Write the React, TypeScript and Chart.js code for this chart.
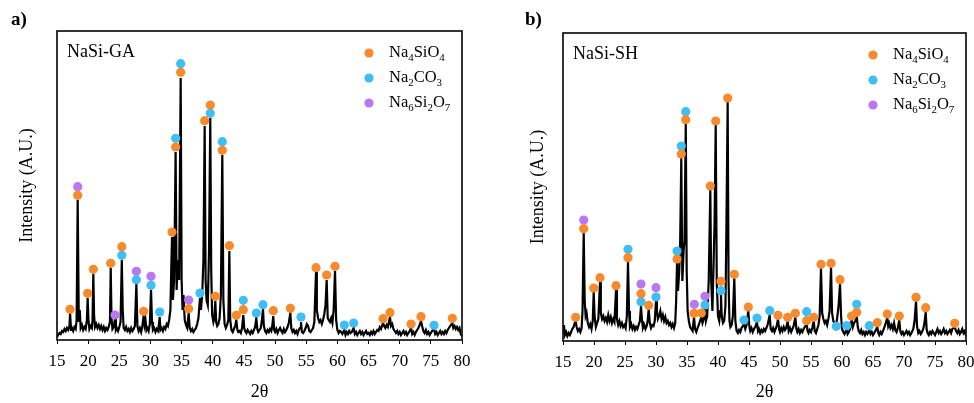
import React, { useEffect, useRef } from "react";
import { Chart, registerables } from "chart.js";

Chart.register(...registerables);

const SERIF = '"Liberation Serif", "Times New Roman", serif';

type Pt = [number, number];

// 2θ axis
const thetaMin = 15;
const thetaMax = 80;
const thetaStep = 5;

// ---------- Pattern a) NaSi-GA : [2θ, intensity (A.U.)] ----------
const gaPattern: Pt[] = [
  [15.0, 3], [15.2, 5], [15.4, 7], [15.6, 6], [15.8, 9], [16.0, 8], [16.2, 11], [16.4, 9], [16.6, 12], [16.8, 10],
  [17.0, 14], [17.1, 27], [17.25, 10], [17.4, 12], [17.6, 9], [17.8, 13], [18.0, 11], [18.15, 20], [18.32, 140], [18.5, 18],
  [18.65, 30], [18.8, 12], [19.0, 15], [19.2, 10], [19.4, 13], [19.6, 11], [19.8, 20], [19.92, 42], [20.05, 20], [20.2, 11],
  [20.4, 14], [20.6, 12], [20.7, 20], [20.83, 66], [20.95, 25], [21.1, 13], [21.3, 16], [21.5, 12], [21.7, 15], [21.9, 11],
  [22.1, 14], [22.3, 10], [22.5, 13], [22.7, 9], [22.9, 12], [23.1, 10], [23.3, 13], [23.5, 18], [23.62, 72], [23.75, 22],
  [23.9, 11], [24.1, 13], [24.31, 21], [24.45, 10], [24.6, 12], [24.8, 9], [25.0, 13], [25.2, 18], [25.4, 80], [25.55, 30],
  [25.7, 12], [25.9, 10], [26.1, 13], [26.3, 9], [26.5, 11], [26.7, 8], [26.9, 12], [27.1, 9], [27.3, 11], [27.5, 14],
  [27.74, 56], [27.9, 14], [28.1, 9], [28.3, 12], [28.5, 8], [28.7, 14], [28.9, 24], [29.05, 15], [29.2, 20], [29.35, 10],
  [29.5, 12], [29.7, 9], [29.9, 16], [30.09, 50], [30.25, 18], [30.4, 10], [30.6, 12], [30.8, 8], [31.0, 11], [31.2, 9],
  [31.35, 15], [31.48, 23], [31.6, 10], [31.8, 12], [32.0, 9], [32.2, 13], [32.4, 11], [32.6, 16], [32.8, 14], [33.0, 20],
  [33.2, 30], [33.35, 75], [33.46, 103], [33.6, 40], [33.8, 60], [34.04, 188], [34.2, 50], [34.4, 80], [34.6, 60], [34.85, 262],
  [35.0, 60], [35.15, 30], [35.3, 45], [35.5, 20], [35.7, 15], [35.9, 12], [36.13, 27], [36.3, 12], [36.5, 9], [36.7, 11],
  [36.9, 8], [37.1, 10], [37.3, 12], [37.5, 16], [37.7, 22], [37.95, 42], [38.1, 30], [38.3, 45], [38.5, 80], [38.7, 214],
  [38.85, 60], [39.0, 40], [39.2, 35], [39.4, 90], [39.6, 222], [39.75, 70], [39.9, 25], [40.1, 18], [40.25, 22], [40.41, 39],
  [40.55, 18], [40.7, 14], [40.9, 16], [41.1, 22], [41.3, 45], [41.53, 185], [41.7, 40], [41.9, 16], [42.1, 12], [42.3, 15],
  [42.5, 20], [42.66, 89], [42.8, 20], [43.0, 10], [43.2, 8], [43.4, 11], [43.6, 14], [43.78, 20], [43.95, 10], [44.1, 8],
  [44.3, 9], [44.5, 7], [44.7, 12], [44.9, 25], [45.05, 12], [45.2, 9], [45.4, 7], [45.6, 10], [45.8, 8], [46.0, 6],
  [46.2, 9], [46.4, 7], [46.6, 10], [46.8, 13], [46.99, 22], [47.15, 11], [47.3, 8], [47.5, 10], [47.7, 12], [47.85, 18],
  [48.06, 31], [48.2, 14], [48.4, 9], [48.6, 7], [48.8, 10], [49.0, 8], [49.2, 11], [49.4, 9], [49.55, 14], [49.71, 24],
  [49.85, 10], [50.0, 8], [50.2, 11], [50.4, 7], [50.6, 10], [50.8, 12], [51.0, 9], [51.2, 7], [51.4, 11], [51.6, 8],
  [51.8, 10], [52.0, 13], [52.2, 17], [52.45, 27], [52.6, 12], [52.8, 8], [53.0, 10], [53.2, 7], [53.4, 9], [53.6, 6],
  [53.8, 10], [54.0, 12], [54.16, 18], [54.3, 8], [54.5, 7], [54.7, 9], [54.9, 12], [55.1, 16], [55.3, 14], [55.5, 9],
  [55.7, 8], [55.9, 10], [56.1, 12], [56.3, 18], [56.57, 68], [56.7, 30], [56.9, 22], [57.1, 18], [57.3, 20], [57.5, 16],
  [57.7, 20], [57.9, 26], [58.1, 35], [58.28, 60], [58.45, 22], [58.6, 20], [58.8, 18], [59.0, 22], [59.2, 17], [59.4, 30],
  [59.62, 69], [59.8, 20], [60.0, 10], [60.2, 7], [60.4, 9], [60.6, 8], [60.8, 6], [61.11, 10], [61.3, 5], [61.5, 8],
  [61.7, 6], [61.9, 9], [62.1, 7], [62.3, 8], [62.61, 12], [62.8, 6], [63.0, 8], [63.2, 5], [63.4, 7], [63.6, 9],
  [63.8, 6], [64.0, 8], [64.2, 5], [64.4, 7], [64.6, 9], [64.8, 6], [65.0, 7], [65.2, 5], [65.4, 8], [65.6, 6],
  [65.8, 9], [66.0, 6], [66.2, 8], [66.4, 10], [66.6, 9], [66.8, 13], [67.0, 11], [67.32, 17], [67.5, 14], [67.7, 12],
  [67.9, 15], [68.1, 13], [68.44, 23], [68.6, 14], [68.8, 16], [69.0, 11], [69.2, 9], [69.4, 7], [69.6, 9], [69.8, 6],
  [70.0, 8], [70.2, 5], [70.4, 7], [70.6, 9], [70.8, 6], [71.0, 8], [71.2, 5], [71.4, 7], [71.6, 9], [71.82, 12],
  [72.0, 6], [72.2, 8], [72.4, 5], [72.6, 8], [72.8, 10], [73.0, 12], [73.2, 15], [73.42, 19], [73.6, 14], [73.8, 9],
  [74.0, 7], [74.2, 10], [74.4, 6], [74.6, 8], [74.8, 5], [75.0, 7], [75.2, 9], [75.51, 11], [75.7, 6], [75.9, 8],
  [76.1, 5], [76.3, 7], [76.5, 9], [76.7, 6], [76.9, 8], [77.1, 6], [77.3, 9], [77.5, 7], [77.7, 10], [77.9, 12],
  [78.1, 14], [78.45, 17], [78.6, 12], [78.8, 14], [79.0, 11], [79.2, 13], [79.4, 10], [79.6, 12], [79.8, 6], [80.0, 4],
];

// phase markers, a) : [2θ, marker level]
const gaNa4SiO4: Pt[] = [
  [17.09, 30.7], [18.32, 144.7], [19.92, 46.7], [20.83, 70.7], [23.62, 76.7], [25.4, 93.3], [28.9, 28.7],
  [33.46, 108], [34.04, 193], [34.85, 267.7], [36.13, 31.3], [38.7, 219.3], [39.6, 235], [40.41, 43.7],
  [41.53, 189.7], [42.66, 94.3], [43.78, 24.7], [44.9, 30.3], [49.71, 29.3], [52.45, 31.7], [56.57, 72.3],
  [58.28, 65], [59.62, 73.7], [67.32, 21.3], [68.44, 27.3], [71.82, 16], [73.42, 23.3], [78.45, 21.7],
];
const gaNa2CO3: Pt[] = [
  [25.4, 84.7], [27.74, 60.3], [30.09, 54.7], [31.48, 28], [34.04, 201.7], [34.85, 276.3], [37.95, 47],
  [39.6, 226.7], [41.53, 198.3], [44.9, 39.7], [46.99, 27], [48.06, 35.3], [54.16, 23], [61.11, 15],
  [62.61, 17], [75.51, 14.7],
];
const gaNa6Si2O7: Pt[] = [
  [18.32, 153.3], [24.31, 25], [27.74, 68.7], [30.09, 63.7], [36.13, 40],
];

// ---------- Pattern b) NaSi-SH ----------
const shPattern: Pt[] = [
  [15.0, 8], [15.15, 16], [15.3, 6], [15.5, 9], [15.7, 5], [15.9, 8], [16.1, 6], [16.3, 9], [16.5, 12], [16.7, 14],
  [16.9, 18], [17.04, 20], [17.2, 14], [17.4, 10], [17.6, 12], [17.8, 9], [18.0, 13], [18.15, 30], [18.34, 108], [18.5, 40],
  [18.65, 25], [18.8, 28], [19.0, 18], [19.2, 14], [19.4, 17], [19.6, 12], [19.8, 20], [19.95, 49], [20.1, 25], [20.3, 14],
  [20.5, 18], [20.7, 22], [20.97, 59], [21.1, 28], [21.3, 22], [21.5, 25], [21.7, 20], [21.9, 23], [22.1, 19], [22.3, 26],
  [22.5, 20], [22.7, 24], [22.9, 18], [23.1, 22], [23.3, 19], [23.55, 51], [23.7, 22], [23.9, 16], [24.1, 20], [24.3, 15],
  [24.5, 18], [24.7, 14], [24.9, 16], [25.1, 13], [25.3, 25], [25.48, 79], [25.65, 30], [25.8, 14], [26.0, 17], [26.2, 12],
  [26.4, 15], [26.6, 11], [26.8, 14], [27.0, 12], [27.2, 16], [27.4, 20], [27.58, 35], [27.75, 20], [27.9, 13], [28.1, 16],
  [28.3, 12], [28.5, 15], [28.65, 20], [28.82, 32], [29.0, 18], [29.2, 13], [29.4, 16], [29.6, 15], [29.8, 20], [30.0, 40],
  [30.15, 30], [30.3, 22], [30.5, 25], [30.7, 30], [30.9, 22], [31.1, 26], [31.3, 20], [31.5, 24], [31.7, 18], [31.9, 20],
  [32.1, 16], [32.3, 18], [32.5, 14], [32.7, 17], [32.9, 13], [33.1, 18], [33.25, 40], [33.39, 78], [33.55, 50], [33.75, 70],
  [33.9, 100], [34.08, 183], [34.25, 60], [34.45, 90], [34.6, 100], [34.8, 218], [34.95, 70], [35.1, 30], [35.3, 20], [35.5, 14],
  [35.7, 12], [35.9, 10], [36.13, 24], [36.3, 12], [36.5, 9], [36.7, 13], [36.9, 16], [37.1, 20], [37.31, 24], [37.5, 18],
  [37.7, 22], [37.9, 32], [38.05, 20], [38.25, 25], [38.5, 60], [38.76, 151], [38.9, 60], [39.1, 30], [39.3, 80], [39.45, 120],
  [39.63, 216], [39.8, 60], [40.0, 25], [40.2, 20], [40.35, 30], [40.48, 46], [40.6, 25], [40.8, 18], [41.0, 20], [41.2, 35],
  [41.35, 110], [41.56, 239], [41.7, 60], [41.85, 20], [42.0, 14], [42.2, 16], [42.4, 25], [42.63, 63], [42.8, 20], [43.0, 10],
  [43.2, 8], [43.4, 11], [43.6, 9], [43.8, 13], [44.0, 15], [44.19, 17], [44.4, 12], [44.6, 16], [44.89, 30], [45.05, 15],
  [45.2, 10], [45.4, 13], [45.6, 9], [45.8, 12], [46.0, 14], [46.29, 19], [46.45, 10], [46.6, 12], [46.8, 8], [47.0, 11],
  [47.2, 9], [47.4, 12], [47.6, 10], [47.8, 13], [48.0, 16], [48.34, 26], [48.5, 12], [48.7, 10], [48.9, 13], [49.1, 9],
  [49.3, 12], [49.5, 16], [49.68, 22], [49.85, 12], [50.0, 9], [50.2, 13], [50.4, 10], [50.6, 14], [50.8, 11], [51.0, 13],
  [51.24, 20], [51.4, 10], [51.6, 13], [51.8, 9], [52.0, 12], [52.2, 15], [52.47, 24], [52.65, 12], [52.8, 9], [53.0, 12],
  [53.2, 8], [53.4, 11], [53.6, 9], [53.8, 12], [54.0, 14], [54.3, 17], [54.45, 10], [54.6, 8], [54.8, 11], [55.0, 9],
  [55.2, 13], [55.44, 20], [55.6, 10], [55.8, 8], [56.0, 12], [56.2, 16], [56.4, 25], [56.61, 73], [56.8, 28], [57.0, 22],
  [57.2, 18], [57.4, 20], [57.6, 16], [57.8, 22], [58.0, 30], [58.23, 74], [58.4, 28], [58.6, 20], [58.8, 18], [59.0, 15],
  [59.2, 22], [59.45, 35], [59.68, 57], [59.85, 25], [60.0, 12], [60.2, 9], [60.4, 7], [60.6, 10], [60.76, 11], [60.9, 7],
  [61.1, 9], [61.3, 12], [61.56, 21], [61.75, 14], [61.95, 18], [62.15, 20], [62.37, 25], [62.55, 14], [62.7, 10], [62.9, 8],
  [63.1, 11], [63.3, 7], [63.5, 9], [63.7, 6], [63.9, 9], [64.1, 7], [64.4, 11], [64.6, 7], [64.8, 9], [65.0, 6],
  [65.2, 8], [65.45, 11], [65.69, 14], [65.85, 8], [66.0, 6], [66.2, 9], [66.4, 7], [66.6, 10], [66.8, 13], [67.0, 17],
  [67.3, 23], [67.45, 15], [67.6, 18], [67.8, 13], [68.0, 16], [68.2, 12], [68.4, 18], [68.6, 11], [68.8, 9], [69.0, 13],
  [69.24, 21], [69.4, 10], [69.6, 7], [69.8, 9], [70.0, 6], [70.2, 8], [70.4, 10], [70.6, 7], [70.8, 9], [71.0, 6],
  [71.2, 8], [71.5, 12], [71.7, 20], [71.94, 40], [72.1, 15], [72.3, 8], [72.5, 10], [72.7, 7], [72.9, 9], [73.1, 12],
  [73.3, 18], [73.5, 29], [73.65, 12], [73.8, 8], [74.0, 6], [74.2, 9], [74.4, 7], [74.6, 10], [74.8, 8], [75.0, 6],
  [75.2, 9], [75.4, 12], [75.6, 8], [75.8, 10], [76.0, 7], [76.2, 9], [76.4, 12], [76.6, 8], [76.8, 10], [77.0, 7],
  [77.2, 9], [77.4, 11], [77.6, 8], [77.8, 12], [78.0, 13], [78.18, 14], [78.4, 10], [78.6, 8], [78.8, 11], [79.0, 7],
  [79.2, 9], [79.4, 12], [79.6, 8], [79.8, 10], [80.0, 5],
];

const shNa4SiO4: Pt[] = [
  [17.04, 23.7], [18.34, 112.3], [19.95, 53], [20.97, 63.3], [23.55, 55.3], [25.48, 83.3], [27.58, 47.3],
  [28.82, 35.7], [33.39, 82], [34.08, 187], [34.8, 221.3], [36.13, 27.7], [37.31, 28], [38.76, 155],
  [39.63, 220], [40.48, 59.7], [41.56, 243], [42.63, 66.7], [44.89, 34], [49.68, 25.7], [51.24, 23.7],
  [52.47, 27.7], [54.3, 20.3], [55.44, 23.7], [56.61, 76.7], [58.23, 77.7], [59.68, 61.3], [61.56, 25],
  [62.37, 28.7], [65.69, 18.3], [67.3, 27], [69.24, 25], [71.94, 43.7], [73.5, 33.3], [78.18, 17.7],
];
const shNa2CO3: Pt[] = [
  [25.48, 91.7], [27.58, 39.3], [30.0, 44], [33.39, 90], [34.08, 195], [34.8, 229.3], [37.9, 36],
  [40.48, 50.3], [44.19, 21], [46.29, 23], [48.34, 30.3], [54.3, 29.3], [59.08, 14.7], [60.76, 15.3],
  [62.37, 36.7], [64.4, 15.3],
];
const shNa6Si2O7: Pt[] = [
  [18.34, 121], [27.58, 57], [30.0, 53.3], [36.18, 36.7], [37.9, 44.7],
];

// legend names (with subscripts) and colours
const phaseNames: [string, boolean][][] = [
  [["Na", false], ["4", true], ["SiO", false], ["4", true]],
  [["Na", false], ["2", true], ["CO", false], ["3", true]],
  [["Na", false], ["6", true], ["Si", false], ["2", true], ["O", false], ["7", true]],
];
const phaseColors = ["#F68A2C", "#3FBEF6", "#B978F2"];

const xAxisTitle = "2θ";
const yAxisTitle = "Intensity (A.U.)";

type PanelProps = {
  label: string;
  sample: string;
  pattern: Pt[];
  phases: Pt[][];
  left: number;
  width: number;
  padTop: number;
  padRight: number;
  xAxisHeight: number;
  yMax: number;
  yTitlePad: number;
  labelX: number;
};

function drawRich(ctx: CanvasRenderingContext2D, parts: [string, boolean][], x: number, y: number, size: number) {
  let cx = x;
  for (const [t, sub] of parts) {
    const fs = sub ? size * 0.66 : size;
    ctx.font = `${fs}px ${SERIF}`;
    ctx.fillText(t, cx, sub ? y + size * 0.25 : y);
    cx += ctx.measureText(t).width;
  }
}

function Panel(p: PanelProps) {
  const ref = useRef<HTMLCanvasElement | null>(null);
  useEffect(() => {
    if (!ref.current) return;
    const overlay = {
      id: "overlay",
      afterDraw(chart: any) {
        const { ctx, chartArea } = chart;
        const { left, top, right, bottom } = chartArea;
        ctx.save();
        ctx.strokeStyle = "#111";
        ctx.lineWidth = 1.7;
        ctx.strokeRect(left, top, right - left, bottom - top);
        ctx.fillStyle = "#000";
        ctx.textBaseline = "middle";
        ctx.textAlign = "left";
        ctx.font = `18px ${SERIF}`;
        ctx.fillText(p.sample, left + 10, top + 21);
        ctx.font = `bold 19px ${SERIF}`;
        ctx.textBaseline = "alphabetic";
        ctx.fillText(p.label, p.labelX, 25);
        for (let i = 0; i < phaseNames.length; i++) {
          const cy = top + 22 + i * 25;
          ctx.beginPath();
          ctx.fillStyle = phaseColors[i];
          ctx.arc(right - 93, cy, 4.6, 0, Math.PI * 2);
          ctx.fill();
          ctx.fillStyle = "#000";
          drawRich(ctx, phaseNames[i], right - 73, cy + 4, 16.5);
        }
        ctx.restore();
      },
    };
    const datasets: any[] = [
      {
        data: p.pattern.map(([x, y]) => ({ x, y })),
        showLine: true,
        borderColor: "#000",
        borderWidth: 2.2,
        pointRadius: 0,
        tension: 0,
        order: 2,
      },
      ...p.phases.map((pts, i) => ({
        data: pts.map(([x, y]) => ({ x, y })),
        showLine: false,
        pointRadius: 4.6,
        pointBorderWidth: 0,
        backgroundColor: phaseColors[i],
        borderColor: phaseColors[i],
        pointStyle: "circle",
        clip: false,
        order: 0,
      })),
    ];
    const chart = new Chart(ref.current, {
      type: "scatter",
      data: { datasets },
      plugins: [overlay],
      options: {
        responsive: false,
        animation: false,
        devicePixelRatio: 1,
        layout: { padding: { top: p.padTop, right: p.padRight, left: 0, bottom: 0 } },
        plugins: { legend: { display: false }, tooltip: { enabled: false } },
        scales: {
          x: {
            type: "linear",
            min: thetaMin,
            max: thetaMax,
            afterFit: (s: any) => {
              s.height = p.xAxisHeight;
              s.paddingLeft = 0;
              s.paddingRight = 0;
            },
            ticks: {
              stepSize: thetaStep,
              color: "#000",
              font: { family: SERIF, size: 17 },
              padding: 7,
              maxRotation: 0,
            },
            grid: { drawOnChartArea: false, drawTicks: true, tickLength: 4, color: "#000", lineWidth: 1 },
            border: { display: false },
            title: {
              display: true,
              text: xAxisTitle,
              color: "#000",
              font: { family: SERIF, size: 18 },
              padding: { top: 0, bottom: 0 },
            },
          },
          y: {
            min: 0,
            max: p.yMax,
            afterFit: (s: any) => {
              s.width = 57;
            },
            ticks: { display: false },
            grid: { display: false },
            border: { display: false },
            title: {
              display: true,
              text: yAxisTitle,
              color: "#000",
              font: { family: SERIF, size: 18 },
              padding: { top: p.yTitlePad, bottom: 0 },
            },
          },
        },
      } as any,
    });
    return () => chart.destroy();
  }, []);
  return (
    <canvas
      ref={ref}
      width={p.width}
      height={403}
      style={{ position: "absolute", left: p.left, top: 0, width: p.width, height: 403 }}
    />
  );
}

export default function App() {
  return (
    <div style={{ position: "fixed", left: 0, top: 0, width: 974, height: 403, background: "#fff" }}>
      <Panel
        label="a)"
        sample="NaSi-GA"
        pattern={gaPattern}
        phases={[gaNa4SiO4, gaNa2CO3, gaNa6Si2O7]}
        left={0}
        width={480}
        padTop={31}
        padRight={18}
        xAxisHeight={63}
        yMax={309}
        yTitlePad={16}
        labelX={11}
      />
      <Panel
        label="b)"
        sample="NaSi-SH"
        pattern={shPattern}
        phases={[shNa4SiO4, shNa2CO3, shNa6Si2O7]}
        left={506}
        width={468}
        padTop={33}
        padRight={8}
        xAxisHeight={62}
        yMax={308}
        yTitlePad={21}
        labelX={19}
      />
    </div>
  );
}
